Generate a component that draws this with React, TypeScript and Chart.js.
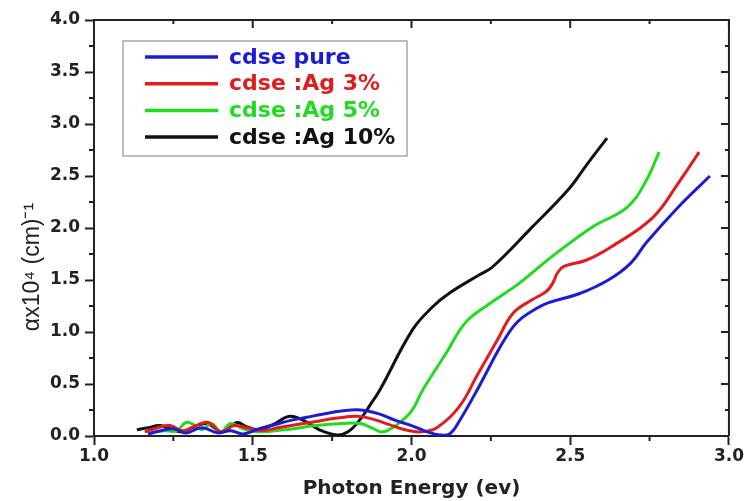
import React, { useEffect, useRef } from "react";
import { Chart, registerables } from "chart.js";

Chart.register(...registerables);

// ---- Data ----
const seriesNames = ["cdse pure", "cdse :Ag 3%", "cdse :Ag 5%", "cdse :Ag 10%"];
const seriesColors = ["#1c1cd6", "#e01c1c", "#1fdc1f", "#111111"];

const pureX = [1.17, 1.21, 1.25, 1.29, 1.34, 1.39, 1.43, 1.47, 1.52, 1.57, 1.62, 1.67, 1.72, 1.78, 1.84, 1.9, 1.95, 2.0, 2.05, 2.09, 2.12, 2.15, 2.21, 2.28, 2.32, 2.35, 2.39, 2.43, 2.53, 2.62, 2.69, 2.74, 2.84, 2.94];
const pureY = [0.02, 0.05, 0.07, 0.03, 0.08, 0.03, 0.05, 0.02, 0.07, 0.11, 0.15, 0.18, 0.21, 0.24, 0.25, 0.21, 0.15, 0.1, 0.04, 0.01, 0.02, 0.14, 0.46, 0.86, 1.05, 1.14, 1.22, 1.28, 1.37, 1.5, 1.66, 1.86, 2.2, 2.5];

const ag3X = [1.16, 1.2, 1.24, 1.28, 1.32, 1.36, 1.4, 1.44, 1.48, 1.53, 1.58, 1.64, 1.7, 1.76, 1.83, 1.88, 1.93, 1.98, 2.03, 2.08, 2.15, 2.21, 2.27, 2.32, 2.38, 2.425, 2.445, 2.46, 2.48, 2.55, 2.63, 2.76, 2.84, 2.906];
const ag3Y = [0.04, 0.08, 0.1, 0.05, 0.1, 0.13, 0.04, 0.1, 0.08, 0.05, 0.08, 0.11, 0.14, 0.17, 0.19, 0.16, 0.11, 0.06, 0.04, 0.08, 0.28, 0.6, 0.92, 1.18, 1.31, 1.39, 1.47, 1.57, 1.63, 1.69, 1.82, 2.1, 2.43, 2.73];

const ag5X = [1.18, 1.22, 1.26, 1.29, 1.32, 1.34, 1.37, 1.4, 1.43, 1.47, 1.52, 1.6, 1.7, 1.78, 1.84, 1.88, 1.91, 1.95, 2.0, 2.035, 2.11, 2.17, 2.24, 2.34, 2.44, 2.57, 2.68, 2.74, 2.78];
const ag5Y = [0.03, 0.05, 0.05, 0.13, 0.1, 0.06, 0.12, 0.04, 0.12, 0.07, 0.04, 0.06, 0.1, 0.12, 0.12, 0.07, 0.04, 0.1, 0.24, 0.44, 0.8, 1.09, 1.26, 1.47, 1.72, 2.01, 2.2, 2.46, 2.73];

const ag10X = [1.135, 1.17, 1.21, 1.27, 1.31, 1.355, 1.405, 1.45, 1.48, 1.52, 1.57, 1.616, 1.66, 1.71, 1.765, 1.8, 1.836, 1.87, 1.9, 2.003, 2.066, 2.12, 2.214, 2.255, 2.371, 2.497, 2.55, 2.616];
const ag10Y = [0.06, 0.08, 0.1, 0.04, 0.08, 0.12, 0.04, 0.13, 0.09, 0.06, 0.12, 0.19, 0.15, 0.06, 0.01, 0.04, 0.15, 0.3, 0.44, 1.02, 1.24, 1.375, 1.55, 1.625, 1.98, 2.38, 2.6, 2.865];

const xTickValues = [1.0, 1.5, 2.0, 2.5, 3.0];
const yTickValues = [0.0, 0.5, 1.0, 1.5, 2.0, 2.5, 3.0, 3.5, 4.0];
const xMinorValues = [1.25, 1.75, 2.25, 2.75];
const yMinorValues = [0.25, 0.75, 1.25, 1.75, 2.25, 2.75, 3.25, 3.75];

const xTitle = "Photon Energy (ev)";
const yTitle = "\u03B1x10\u2074 (cm)\u207B\u00B9";

const seriesX = [pureX, ag3X, ag5X, ag10X];
const seriesY = [pureY, ag3Y, ag5Y, ag10Y];

const AXIS_COLOR = "#222222";
const TICK_FONT = { family: "'DejaVu Sans', sans-serif", size: 17, weight: "bold" as const };

const framePlugin = {
  id: "frame",
  afterDraw(chart: any) {
    const { ctx, chartArea } = chart;
    const { left, right, top, bottom } = chartArea;
    const xs = chart.scales.x;
    const ys = chart.scales.y;
    ctx.save();
    ctx.strokeStyle = AXIS_COLOR;
    ctx.lineWidth = 2;
    // top and right border
    ctx.beginPath();
    ctx.moveTo(left, top);
    ctx.lineTo(right, top);
    ctx.lineTo(right, bottom);
    ctx.stroke();
    // minor ticks (outward on left/bottom, inward on top/right)
    ctx.beginPath();
    xMinorValues.forEach((v) => {
      const px = xs.getPixelForValue(v);
      ctx.moveTo(px, bottom);
      ctx.lineTo(px, bottom + 5);
      ctx.moveTo(px, top);
      ctx.lineTo(px, top + 4);
    });
    yMinorValues.forEach((v) => {
      const py = ys.getPixelForValue(v);
      ctx.moveTo(left, py);
      ctx.lineTo(left - 5, py);
      ctx.moveTo(right, py);
      ctx.lineTo(right - 4, py);
    });
    // mirrored major ticks (inward on top/right)
    xTickValues.forEach((v) => {
      const px = xs.getPixelForValue(v);
      ctx.moveTo(px, top);
      ctx.lineTo(px, top + 8);
    });
    yTickValues.forEach((v) => {
      const py = ys.getPixelForValue(v);
      ctx.moveTo(right, py);
      ctx.lineTo(right - 8, py);
    });
    ctx.stroke();

    // y axis title
    ctx.save();
    ctx.translate(33, 267);
    ctx.rotate(-Math.PI / 2);
    ctx.fillStyle = AXIS_COLOR;
    ctx.font = "23px 'Liberation Sans', Arial, sans-serif";
    ctx.textAlign = "center";
    ctx.textBaseline = "middle";
    ctx.fillText(yTitle, 0, 0);
    ctx.restore();

    // legend
    const bx = 123, by = 41, bw = 284, bh = 115;
    ctx.fillStyle = "#ffffff";
    ctx.fillRect(bx, by, bw, bh);
    ctx.strokeStyle = "#a8a8a8";
    ctx.lineWidth = 1.5;
    ctx.strokeRect(bx, by, bw, bh);
    ctx.font = "bold 22px 'DejaVu Sans', sans-serif";
    ctx.textAlign = "left";
    ctx.textBaseline = "middle";
    seriesNames.forEach((name, i) => {
      const y = 57 + i * 26.7;
      ctx.strokeStyle = seriesColors[i];
      ctx.lineWidth = 3.5;
      ctx.beginPath();
      ctx.moveTo(145, y);
      ctx.lineTo(218, y);
      ctx.stroke();
      ctx.fillStyle = seriesColors[i];
      ctx.fillText(name, 229, y + 1);
    });
    ctx.restore();
  },
};

export default function App() {
  const ref = useRef<HTMLCanvasElement>(null);
  useEffect(() => {
    if (!ref.current) return;
    const datasets = seriesNames.map((name, i) => ({
      label: name,
      data: seriesX[i].map((x, j) => ({ x, y: seriesY[i][j] })),
      borderColor: seriesColors[i],
      backgroundColor: seriesColors[i],
      borderWidth: 3,
      pointRadius: 0,
      fill: false,
      tension: 0.4,
    }));
    const chart = new Chart(ref.current, {
      type: "line",
      data: { datasets },
      options: {
        responsive: false,
        animation: false,
        devicePixelRatio: 1,
        layout: { padding: { left: 0, right: 15, top: 20, bottom: 0 } },
        plugins: { legend: { display: false }, tooltip: { enabled: false } },
        scales: {
          x: {
            type: "linear",
            min: 1,
            max: 3,
            afterFit: (s: any) => {
              s.height = 65;
            },
            afterBuildTicks: (s: any) => {
              s.ticks = xTickValues.map((v) => ({ value: v }));
            },
            ticks: {
              font: TICK_FONT,
              color: AXIS_COLOR,
              padding: 1,
              maxRotation: 0,
              autoSkip: false,
              callback: (v: any) => Number(v).toFixed(1),
            },
            grid: {
              drawOnChartArea: false,
              drawTicks: true,
              tickLength: 9,
              tickColor: AXIS_COLOR,
              tickWidth: 2,
            },
            border: { color: AXIS_COLOR, width: 2 },
            title: {
              display: true,
              text: xTitle,
              color: AXIS_COLOR,
              font: { family: "'DejaVu Sans', sans-serif", size: 20, weight: "bold" },
              padding: { top: 0, bottom: 0 },
            },
          },
          y: {
            type: "linear",
            min: 0,
            max: 4,
            afterFit: (s: any) => {
              s.width = 94;
            },
            afterBuildTicks: (s: any) => {
              s.ticks = yTickValues.map((v) => ({ value: v }));
            },
            ticks: {
              font: TICK_FONT,
              color: AXIS_COLOR,
              padding: 5,
              autoSkip: false,
              callback: (v: any) => Number(v).toFixed(1),
            },
            grid: {
              drawOnChartArea: false,
              drawTicks: true,
              tickLength: 9,
              tickColor: AXIS_COLOR,
              tickWidth: 2,
            },
            border: { color: AXIS_COLOR, width: 2 },
          },
        },
      },
      plugins: [framePlugin],
    });
    return () => chart.destroy();
  }, []);
  return (
    <div style={{ position: "absolute", left: 0, top: 0, width: 745, height: 501, background: "#ffffff" }}>
      <canvas ref={ref} width={745} height={501} style={{ display: "block", width: 745, height: 501 }} />
    </div>
  );
}
